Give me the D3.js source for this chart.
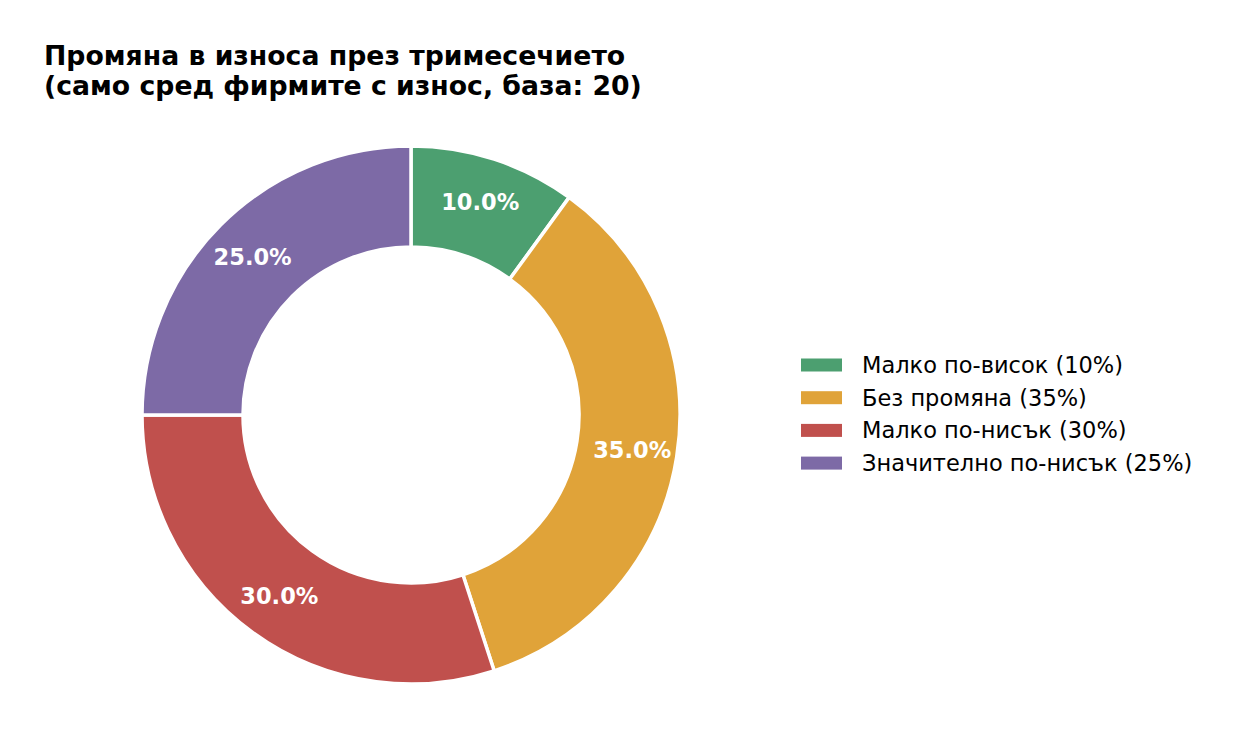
<!DOCTYPE html>
<html>
<head>
<meta charset="utf-8">
<script src="https://cdn.jsdelivr.net/npm/d3@7"></script>
<style>
  body { margin: 0; background: #fff; }
  svg { font-family: "DejaVu Sans", sans-serif; }
</style>
</head>
<body>
<div id="chart"></div>
<script>
const categories = ['Малко по-висок', 'Без промяна', 'Малко по-нисък', 'Значително по-нисък'];
const values = [10, 35, 30, 25];
const colors = ['#4c9f70', '#e0a339', '#c0504d', '#7d6aa6'];
const titleLines = ['Промяна в износа през тримесечието', '(само сред фирмите с износ, база: 20)'];

const width = 1246, height = 756;
const cx = 411, cy = 415, outerR = 269, innerR = 168, labelR = 224;

const svg = d3.select('#chart').append('svg')
  .attr('width', width)
  .attr('height', height);

svg.append('text')
  .attr('x', 44)
  .attr('y', 65)
  .attr('font-size', 26.7)
  .attr('font-weight', 'bold')
  .selectAll('tspan')
  .data(titleLines)
  .join('tspan')
  .attr('x', 44)
  .attr('dy', (d, i) => i === 0 ? 0 : 30)
  .text(d => d);

const total = d3.sum(values);
const pie = d3.pie().sort(null).value(d => d);
const arcs = pie(values);
const arc = d3.arc().innerRadius(innerR).outerRadius(outerR);
const labelArc = d3.arc().innerRadius(labelR).outerRadius(labelR);

const g = svg.append('g').attr('transform', `translate(${cx},${cy})`);

g.selectAll('path')
  .data(arcs)
  .join('path')
  .attr('d', arc)
  .attr('fill', (d, i) => colors[i])
  .attr('stroke', '#fff')
  .attr('stroke-width', 3.5);

g.selectAll('text')
  .data(arcs)
  .join('text')
  .attr('transform', d => `translate(${labelArc.centroid(d)})`)
  .attr('text-anchor', 'middle')
  .attr('dominant-baseline', 'central')
  .attr('fill', '#fff')
  .attr('font-size', 22.5)
  .attr('font-weight', 'bold')
  .text(d => (d.value / total * 100).toFixed(1) + '%');

const legend = svg.append('g').attr('transform', 'translate(801,365)');
const item = legend.selectAll('g')
  .data(categories)
  .join('g')
  .attr('transform', (d, i) => `translate(0,${i * 32.7})`);

item.append('rect')
  .attr('x', 0)
  .attr('y', -6.5)
  .attr('width', 41)
  .attr('height', 13)
  .attr('fill', (d, i) => colors[i]);

item.append('text')
  .attr('x', 61)
  .attr('y', 0)
  .attr('dominant-baseline', 'central')
  .attr('font-size', 22.5)
  .attr('fill', '#000')
  .text((d, i) => `${d} (${values[i]}%)`);
</script>
</body>
</html>
